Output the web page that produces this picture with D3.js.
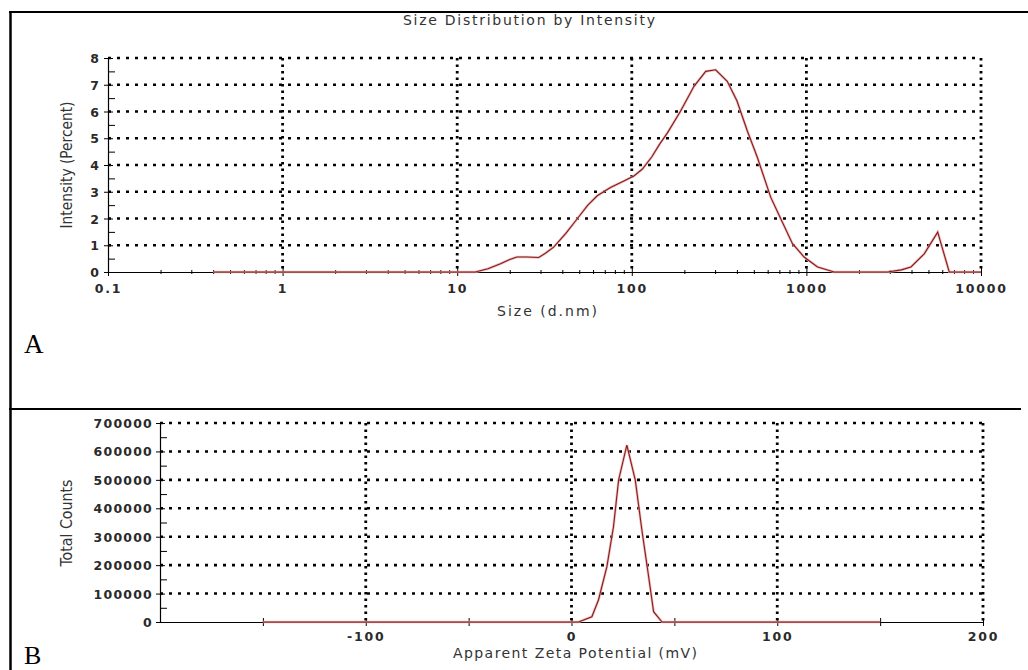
<!DOCTYPE html>
<html>
<head>
<meta charset="utf-8">
<script src="https://cdn.jsdelivr.net/npm/d3@7"></script>
<style>
  html, body { margin: 0; padding: 0; background: #fff; }
  svg { display: block; }
</style>
</head>
<body>
<div id="chart"></div>
<script>
// Panel A: size distribution by intensity
const sizeNm = [0.4, 12.7, 15, 17.7, 20, 22, 25, 29.3, 32, 35.7, 42, 48.7, 56, 63.4, 75.5, 90,
  102.8, 115, 130, 145, 160, 190, 227, 265, 302, 352, 400, 459, 524, 625, 713, 832, 970,
  1158, 1442, 2915, 3500, 3970, 4730, 5650, 6580, 10000];
const intensityPct = [0, 0, 0.12, 0.31, 0.47, 0.56, 0.56, 0.54, 0.7, 0.93, 1.45, 1.99, 2.5, 2.85, 3.16, 3.4,
  3.59, 3.85, 4.3, 4.8, 5.2, 6.01, 6.94, 7.5, 7.56, 7.13, 6.4, 5.27, 4.28, 2.79, 1.99, 1.06, 0.56,
  0.19, 0, 0, 0.08, 0.19, 0.68, 1.49, 0, 0];
const sizeTicks = [0.1, 1, 10, 100, 1000, 10000];
const intensityTicks = [0, 1, 2, 3, 4, 5, 6, 7, 8];

// Panel B: zeta potential
const zetaMv = [-150, 3.4, 9.9, 13.1, 17.2, 20.4, 22.9, 26.9, 31, 34.2, 37.5, 39.9, 44, 150];
const totalCounts = [0, 0, 18600, 77400, 194500, 335000, 499500, 622600, 499500, 323600, 159300, 36200, 0, 0];
const zetaTicks = [-100, 0, 100, 200];
const zetaMinorTicks = [-150, -50, 50, 150];
const countTicks = [0, 100000, 200000, 300000, 400000, 500000, 600000, 700000];

const W = 1028, H = 670;
const svg = d3.select('#chart').append('svg')
  .attr('width', W).attr('height', H)
  .attr('viewBox', `0 0 ${W} ${H}`);

const labelFont = "'DejaVu Sans', Verdana, sans-serif";
const narrowFont = "'Liberation Sans Narrow', 'DejaVu Sans Condensed', sans-serif";

// frame lines
svg.append('line').attr('x1', 9).attr('x2', W).attr('y1', 12).attr('y2', 12)
  .attr('stroke', '#000').attr('stroke-width', 2);
svg.append('line').attr('x1', 10.5).attr('x2', 10.5).attr('y1', 11).attr('y2', H)
  .attr('stroke', '#000').attr('stroke-width', 2.5);
svg.append('line').attr('x1', 9).attr('x2', 1021).attr('y1', 409).attr('y2', 409)
  .attr('stroke', '#000').attr('stroke-width', 2);

function styleTickText(sel) {
  sel.attr('font-family', labelFont).attr('font-weight', 'bold')
    .attr('font-size', 12.5).attr('fill', '#2a2a2a').attr('letter-spacing', '1.8px');
}

function drawCurve(g, pts, x, y) {
  const line = d3.line().x(d => x(d[0])).y(d => y(d[1]));
  g.append('path').datum(pts).attr('d', line)
    .attr('fill', 'none').attr('stroke', '#f2a6a6').attr('stroke-width', 2.6).attr('opacity', 0.8);
  g.append('path').datum(pts).attr('d', line)
    .attr('fill', 'none').attr('stroke', '#7d1f1f').attr('stroke-width', 1.1);
}

// ---------- Panel A ----------
(function () {
  const x = d3.scaleLog().domain([0.1, 10000]).range([108, 981]);
  const y = d3.scaleLinear().domain([0, 8]).range([272, 58]);
  const g = svg.append('g');

  // grid
  g.append('g').selectAll('line').data(intensityTicks.slice(1)).join('line')
    .attr('x1', x(0.1)).attr('x2', x(10000))
    .attr('y1', d => y(d)).attr('y2', d => y(d))
    .attr('stroke', '#000').attr('stroke-width', 2.6).attr('stroke-dasharray', '3,6');
  g.append('g').selectAll('line').data(sizeTicks.slice(1)).join('line')
    .attr('x1', d => x(d)).attr('x2', d => x(d))
    .attr('y1', y(8)).attr('y2', y(0))
    .attr('stroke', '#000').attr('stroke-width', 2.8).attr('stroke-dasharray', '2.5,4');

  // minor x ticks
  const minor = [];
  sizeTicks.slice(0, -1).forEach(d => { for (let k = 2; k <= 9; k++) minor.push(d * k); });
  g.append('g').attr('transform', `translate(0,${y(0)})`)
    .call(d3.axisBottom(x).tickValues(minor).tickFormat('').tickSize(3).tickSizeOuter(0))
    .call(a => a.select('.domain').remove())
    .call(a => a.selectAll('line').attr('y1', -2).attr('y2', 2));

  // major x axis
  const xa = g.append('g').attr('transform', `translate(0,${y(0)})`)
    .call(d3.axisBottom(x).tickValues(sizeTicks).tickFormat(d => String(d)).tickSizeOuter(0));
  xa.select('.domain').attr('stroke-width', 1.2);
  xa.selectAll('line').attr('y1', -4).attr('y2', 4);
  xa.selectAll('text').attr('y', 21).attr('dy', 0).call(styleTickText);

  // minor y ticks
  g.append('g').attr('transform', `translate(${x(0.1)},0)`)
    .call(d3.axisRight(y).tickValues(d3.range(0.5, 8, 1)).tickFormat('').tickSize(7).tickSizeOuter(0))
    .call(a => a.select('.domain').remove());

  const ya = g.append('g').attr('transform', `translate(${x(0.1)},0)`)
    .call(d3.axisLeft(y).tickValues(intensityTicks).tickFormat(d3.format('d')).tickSizeOuter(0));
  ya.select('.domain').attr('stroke-width', 1.2);
  ya.selectAll('line').attr('x1', -4).attr('x2', 5);
  ya.selectAll('text').attr('x', -9).attr('dy', '0.36em').call(styleTickText)
    .attr('letter-spacing', 0);

  drawCurve(g, sizeNm.map((s, i) => [s, intensityPct[i]]), x, y);

  // texts
  g.append('text').attr('x', 529).attr('y', 25).attr('text-anchor', 'middle')
    .attr('font-family', labelFont).attr('font-size', 14).attr('fill', '#333')
    .attr('textLength', 252).text('Size Distribution by Intensity');
  g.append('text').attr('x', 547).attr('y', 316).attr('text-anchor', 'middle')
    .attr('font-family', labelFont).attr('font-size', 14).attr('fill', '#333')
    .attr('textLength', 100).text('Size (d.nm)');
  g.append('text').attr('transform', 'translate(72,165) rotate(-90)').attr('text-anchor', 'middle')
    .attr('font-family', narrowFont).attr('font-size', 15).attr('fill', '#333')
    .attr('textLength', 127).attr('lengthAdjust', 'spacingAndGlyphs').text('Intensity (Percent)');
  g.append('text').attr('x', 24).attr('y', 353)
    .attr('font-family', "'Liberation Serif', 'Times New Roman', serif").attr('font-size', 27)
    .attr('fill', '#000').text('A');
})();

// ---------- Panel B ----------
(function () {
  const x = d3.scaleLinear().domain([-200, 200]).range([160, 983]);
  const y = d3.scaleLinear().domain([0, 700000]).range([622, 423]);
  const g = svg.append('g');

  g.append('g').selectAll('line').data(countTicks.slice(1)).join('line')
    .attr('x1', x(-200)).attr('x2', x(200))
    .attr('y1', d => y(d)).attr('y2', d => y(d))
    .attr('stroke', '#000').attr('stroke-width', 2.6).attr('stroke-dasharray', '3,6');
  g.append('g').selectAll('line').data(zetaTicks).join('line')
    .attr('x1', d => x(d)).attr('x2', d => x(d))
    .attr('y1', y(700000)).attr('y2', y(0))
    .attr('stroke', '#000').attr('stroke-width', 2.8).attr('stroke-dasharray', '2.5,4');

  g.append('g').attr('transform', `translate(0,${y(0)})`)
    .call(d3.axisBottom(x).tickValues(zetaMinorTicks).tickFormat('').tickSizeOuter(0))
    .call(a => a.select('.domain').remove())
    .call(a => a.selectAll('line').attr('y1', -4).attr('y2', 4));

  const xa = g.append('g').attr('transform', `translate(0,${y(0)})`)
    .call(d3.axisBottom(x).tickValues(zetaTicks).tickFormat(d => String(d)).tickSizeOuter(0));
  xa.select('.domain').attr('stroke-width', 1.2);
  xa.selectAll('line').attr('y1', -4).attr('y2', 4);
  xa.selectAll('text').attr('y', 19).attr('dy', 0).call(styleTickText);

  g.append('g').attr('transform', `translate(${x(-200)},0)`)
    .call(d3.axisRight(y).tickValues(d3.range(50000, 700000, 100000)).tickFormat('').tickSize(7).tickSizeOuter(0))
    .call(a => a.select('.domain').remove());

  const ya = g.append('g').attr('transform', `translate(${x(-200)},0)`)
    .call(d3.axisLeft(y).tickValues(countTicks).tickFormat(d3.format('d')).tickSizeOuter(0));
  ya.select('.domain').attr('stroke-width', 1.2);
  ya.selectAll('line').attr('x1', -4).attr('x2', 5);
  ya.selectAll('text').attr('x', -7).attr('dy', '0.36em').call(styleTickText)
    .attr('letter-spacing', '1.2px');

  drawCurve(g, zetaMv.map((z, i) => [z, totalCounts[i]]), x, y);

  g.append('text').attr('x', 575).attr('y', 658).attr('text-anchor', 'middle')
    .attr('font-family', labelFont).attr('font-size', 14).attr('fill', '#333')
    .attr('textLength', 244).text('Apparent Zeta Potential (mV)');
  g.append('text').attr('transform', 'translate(72,523) rotate(-90)').attr('text-anchor', 'middle')
    .attr('font-family', narrowFont).attr('font-size', 15).attr('fill', '#333')
    .attr('textLength', 87).attr('lengthAdjust', 'spacingAndGlyphs').text('Total Counts');
  g.append('text').attr('x', 24).attr('y', 664)
    .attr('font-family', "'Liberation Serif', 'Times New Roman', serif").attr('font-size', 26)
    .attr('fill', '#000').text('B');
})();
</script>
</body>
</html>
